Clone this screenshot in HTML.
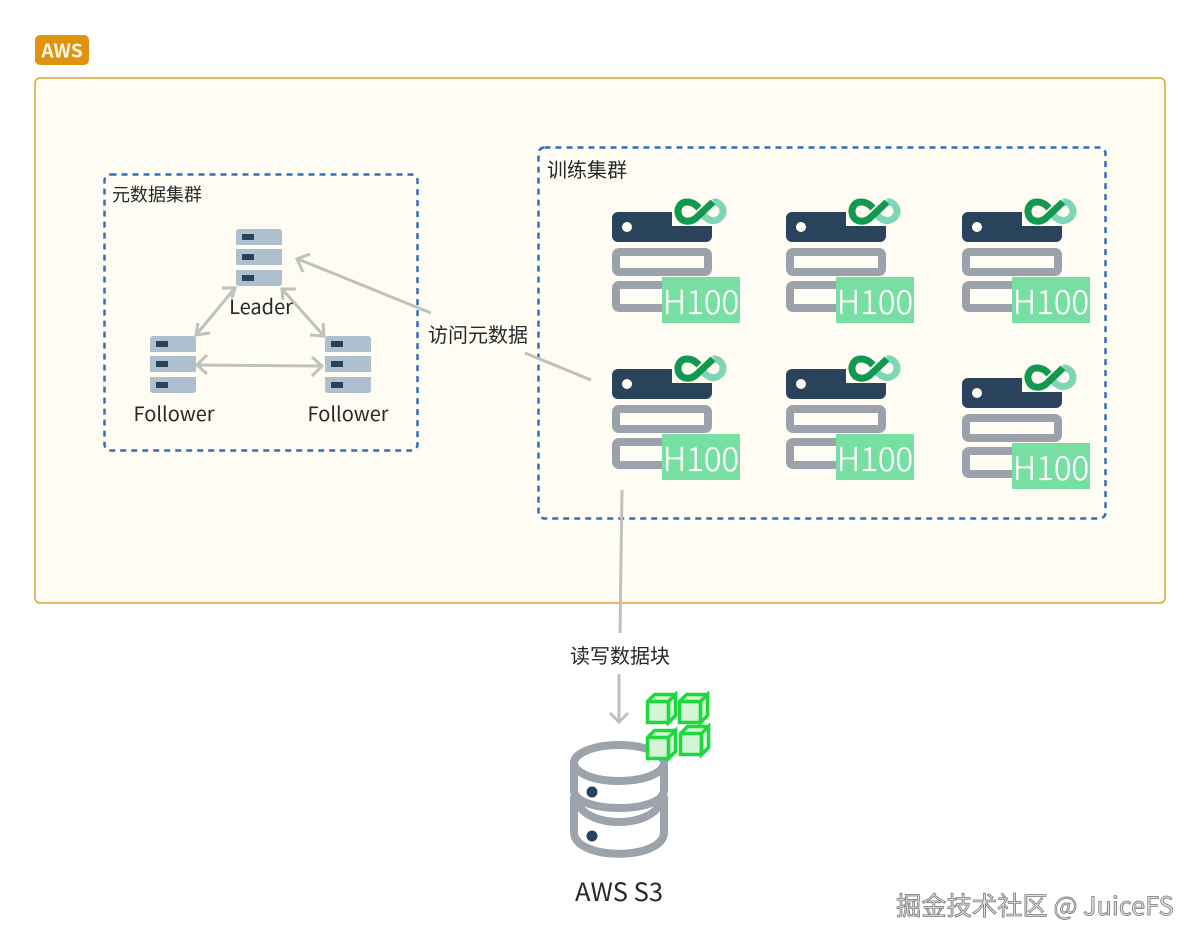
<!DOCTYPE html>
<html><head><meta charset="utf-8">
<style>
html,body{margin:0;padding:0;background:#fff;width:1200px;height:944px;overflow:hidden}
svg{display:block}
text{font-family:"Liberation Sans","Noto Sans CJK SC",sans-serif}
.n{font-family:"Noto Sans CJK SC","Liberation Sans",sans-serif;fill:#26292b}
</style></head><body>
<svg width="1200" height="944" viewBox="0 0 1200 944" xmlns="http://www.w3.org/2000/svg">
<defs>
<g id="srv">
  <path d="M6 1H60V15H100V25a6 6 0 0 1-6 6H6a6 6 0 0 1-6-6V7a6 6 0 0 1 6-6z" fill="#2a435c"/>
  <circle cx="15" cy="16" r="5" fill="#fffdf3"/>
  <rect x="4" y="41" width="92" height="20" rx="3" fill="#fffdf3" stroke="#9ca2ab" stroke-width="8"/>
  <rect x="4" y="74" width="92" height="23" rx="3" fill="#fffdf3" stroke="#9ca2ab" stroke-width="8"/>
  <path d="M101 -9C106 -10 111 -5 111 0C111 7 104 11 98 9C95 8 93 6 91 4" fill="none" stroke="#7fd6b6" stroke-width="7"/>
  <path d="M101 -9L84 7C78 12 70 11 67 5C64 -2 68 -9 75 -9C80 -9 83 -7 87 -3" fill="none" stroke="#12994f" stroke-width="7"/>
  <rect x="50" y="66" width="78" height="46" fill="#78dfa2"/>
  <text x="89" y="103" text-anchor="middle" font-size="33" fill="#fff" stroke="#fff" stroke-width="0.300" style="font-family:'Noto Sans CJK SC','Liberation Sans',sans-serif;font-weight:300">H100</text>
</g>
<g id="mini">
  <path d="M3 0H43a3 3 0 0 1 3 3V16H0V3a3 3 0 0 1 3-3z" fill="#aebfcd"/>
  <rect y="20" width="46" height="16" fill="#aebfcd"/>
  <path d="M0 41H46V54a3 3 0 0 1-3 3H3a3 3 0 0 1-3-3z" fill="#aebfcd"/>
  <rect x="6" y="5" width="12" height="6" fill="#2a435c"/>
  <rect x="6" y="25" width="12" height="6" fill="#2a435c"/>
  <rect x="6" y="46" width="12" height="6" fill="#2a435c"/>
</g>
<g id="cube" stroke="#1fd83f" stroke-width="3.500" stroke-linejoin="miter">
  <path d="M1.500 8.500L8.500 1.500H29.500V22.500L22.500 29.500H1.500Z" fill="#d3f5d6"/>
  <path d="M22.500 8.500L29.500 1.500V22.500L22.500 29.500Z" fill="#e6f8e6"/>
  <path d="M1.500 8.500H22.500V29.500" fill="none"/>
</g>
</defs>

<rect x="35" y="35" width="54" height="30" rx="5" fill="#e0930f"/>
<text x="62" y="57.500" text-anchor="middle" font-size="19" font-weight="700" fill="#fff8e8" style="font-family:'Noto Sans CJK SC','Liberation Sans',sans-serif">AWS</text>
<rect x="35" y="78" width="1130" height="525" rx="5" fill="#fffdf3" stroke="#dca52e" stroke-width="1.500"/>

<rect x="104.500" y="174.500" width="313" height="276" rx="6" fill="none" stroke="#2f6fbd" stroke-width="2.500" stroke-dasharray="6 5"/>
<rect x="538.500" y="147.500" width="567" height="371" rx="6" fill="none" stroke="#2f6fbd" stroke-width="2.500" stroke-dasharray="6 5"/>
<text x="112" y="201" class="n" font-size="18">元数据集群</text>
<text x="547" y="177" class="n" font-size="20">训练集群</text>

<g fill="none" stroke="#bfc1bd" stroke-width="3">
  <path d="M235 288L196 335M222 288H235L232 298M210 333L196 335L198 323"/>
  <path d="M282 289L324 336M296 289H282L283 300M310 335L324 336L323 323"/>
  <path d="M197 365L322 366M207 355L197 365L207 374M312 357L322 366L312 376"/>
  <path d="M298 259L431 313M310 254L297 259L303 272"/>
  <path d="M525 353L591 380"/>
  <path d="M622 490L620 633"/>
  <path d="M619 674V722M610 713L619 722L628 713"/>
</g>

<use href="#mini" x="236" y="229"/>
<use href="#mini" x="150" y="336"/>
<use href="#mini" x="325" y="336"/>
<text x="261" y="314" text-anchor="middle" class="n" font-size="20">Leader</text>
<text x="174" y="421" text-anchor="middle" class="n" font-size="20">Follower</text>
<text x="348" y="421" text-anchor="middle" class="n" font-size="20">Follower</text>
<text x="478" y="342" text-anchor="middle" class="n" font-size="20">访问元数据</text>
<text x="620" y="663" text-anchor="middle" class="n" font-size="20">读写数据块</text>

<use href="#srv" x="612" y="211"/>
<use href="#srv" x="786" y="211"/>
<use href="#srv" x="962" y="211"/>
<use href="#srv" x="612" y="368"/>
<use href="#srv" x="786" y="368"/>
<use href="#srv" x="962" y="377"/>

<g fill="#fff" stroke="#9ca3ab" stroke-width="8">
  <path d="M574 796V832C574 861 664 861 664 832V796"/>
  <path d="M578 804C590 828 648 828 660 804" fill="none"/>
  <path d="M574 763V790C574 814 664 814 664 790V763"/>
  <ellipse cx="619" cy="763" rx="45" ry="18"/>
</g>
<circle cx="592" cy="792" r="5.500" fill="#2a435c"/>
<circle cx="592" cy="836" r="5.500" fill="#2a435c"/>
<use href="#cube" x="646" y="693"/>
<use href="#cube" x="678" y="693"/>
<use href="#cube" x="646" y="729"/>
<use href="#cube" x="679" y="725"/>
<text x="619" y="901" text-anchor="middle" class="n" font-size="25.500">AWS S3</text>

<text x="896" y="915" font-size="25.300" fill="#e2e2e2" stroke="#777" stroke-width="0.800" style="font-family:'Noto Sans CJK SC','Liberation Sans',sans-serif">掘金技术社区 @ JuiceFS</text>
</svg>
</body></html>
